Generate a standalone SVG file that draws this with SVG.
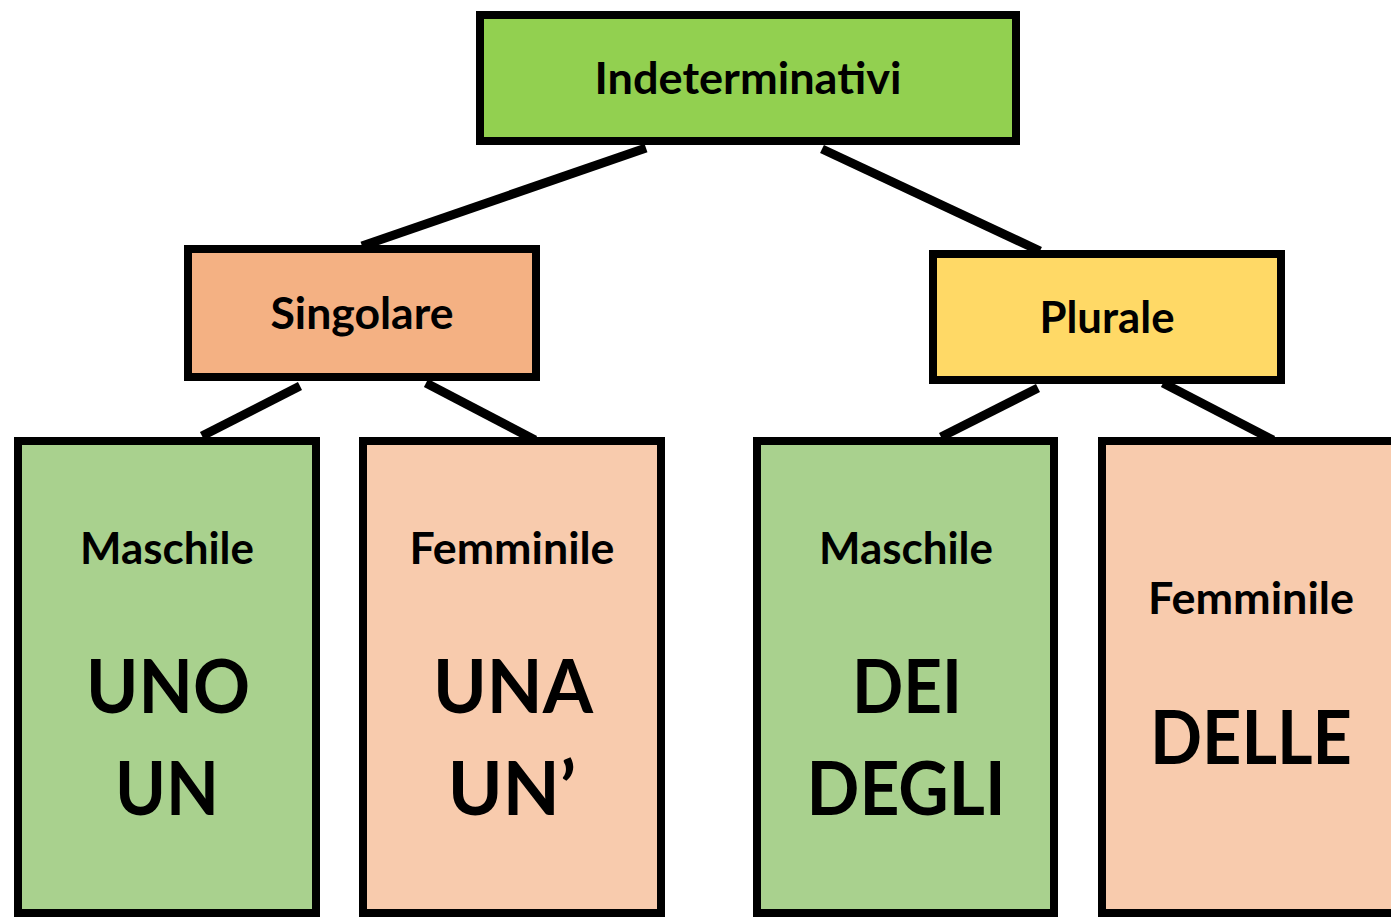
<svg xmlns="http://www.w3.org/2000/svg" width="1391" height="917" viewBox="0 0 1391 917">
<style>
.box{stroke:#000;stroke-width:8}
.lbl{font-family:Lato,"Open Sans","Liberation Sans",sans-serif;font-weight:bold;font-size:43px;fill:#000;text-anchor:middle}
.big{font-family:Lato,"Open Sans","Liberation Sans",sans-serif;font-weight:bold;font-size:74px;fill:#000;text-anchor:middle}
.conn line{stroke:#000;stroke-width:9;stroke-linecap:butt}
</style>
<rect width="1391" height="917" fill="#fff"/>
<g id="connectors" class="conn">
<line x1="646" y1="148" x2="362" y2="246"/>
<line x1="822" y1="149" x2="1040" y2="251"/>
<line x1="300" y1="386" x2="202" y2="436"/>
<line x1="426" y1="383" x2="535" y2="440"/>
<line x1="1038" y1="388" x2="941" y2="437"/>
<line x1="1163" y1="383" x2="1273" y2="440"/>
</g>
<g id="indeterminativi">
<rect class="box" x="480" y="15" width="536" height="126" fill="#92D050"/>
<text class="lbl" x="748" y="94" textLength="307" lengthAdjust="spacingAndGlyphs">Indeterminativi</text>
</g>
<g id="singolare">
<rect class="box" x="188" y="249" width="348" height="128" fill="#F4B183"/>
<text class="lbl" x="362" y="329" textLength="183" lengthAdjust="spacingAndGlyphs">Singolare</text>
</g>
<g id="plurale">
<rect class="box" x="933" y="254" width="348" height="126" fill="#FFD966"/>
<text class="lbl" x="1107" y="333" textLength="135" lengthAdjust="spacingAndGlyphs">Plurale</text>
</g>
<g id="maschile-sing">
<rect class="box" x="18" y="441" width="298" height="472" fill="#A9D18E"/>
<text class="lbl" x="167" y="564" textLength="174" lengthAdjust="spacingAndGlyphs">Maschile</text>
<text class="big" x="168" y="713" textLength="164" lengthAdjust="spacingAndGlyphs">UNO</text>
<text class="big" x="167" y="815" textLength="104" lengthAdjust="spacingAndGlyphs">UN</text>
</g>
<g id="femminile-sing">
<rect class="box" x="363" y="441" width="298" height="472" fill="#F8CBAD"/>
<text class="lbl" x="512" y="564" textLength="205" lengthAdjust="spacingAndGlyphs">Femminile</text>
<text class="big" x="513" y="713" textLength="160" lengthAdjust="spacingAndGlyphs">UNA</text>
<text class="big" x="512" y="815">UN’</text>
</g>
<g id="maschile-plur">
<rect class="box" x="757" y="441" width="297" height="472" fill="#A9D18E"/>
<text class="lbl" x="906" y="564" textLength="174" lengthAdjust="spacingAndGlyphs">Maschile</text>
<text class="big" x="907" y="713" textLength="110" lengthAdjust="spacingAndGlyphs">DEI</text>
<text class="big" x="906" y="815" textLength="199" lengthAdjust="spacingAndGlyphs">DEGLI</text>
</g>
<g id="femminile-plur">
<rect class="box" x="1102" y="441" width="300" height="472" fill="#F8CBAD"/>
<text class="lbl" x="1251" y="614" textLength="206" lengthAdjust="spacingAndGlyphs">Femminile</text>
<text class="big" x="1251" y="764" textLength="202" lengthAdjust="spacingAndGlyphs">DELLE</text>
</g>
</svg>
